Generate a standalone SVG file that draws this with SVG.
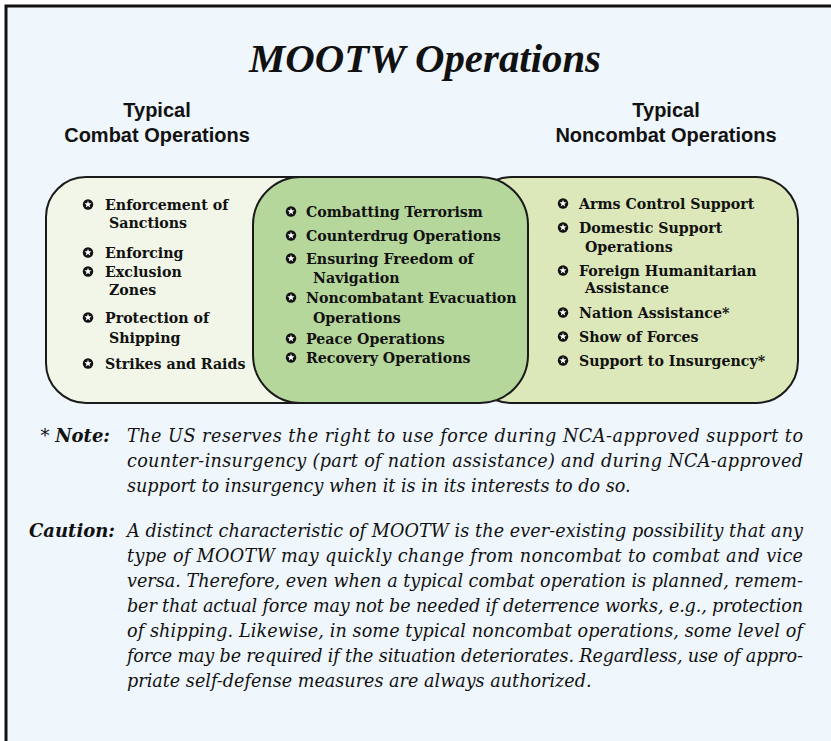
<svg xmlns="http://www.w3.org/2000/svg" xmlns:xlink="http://www.w3.org/1999/xlink" width="831" height="741" viewBox="0 0 831 741">
<style>
.box{stroke:#1a1a1a;stroke-width:2}
.item{font-family:"DejaVu Serif",serif;font-weight:bold;font-size:14.2px;fill:#111}
.hdr{font-family:"Liberation Sans",Arial,sans-serif;font-weight:bold;font-size:20px;fill:#111;text-anchor:middle}
.body{font-family:"DejaVu Serif",serif;font-style:italic;font-size:17.6px;fill:#111}
.lbl{font-family:"DejaVu Serif",serif;font-style:italic;font-weight:bold;font-size:18px;fill:#111;text-anchor:end}
</style>
<defs>
<g id="bul"><circle r="5.2" fill="#111"/><polygon fill="#fff" points="0,-3.8 0.94,-1.29 3.61,-1.17 1.52,0.49 2.23,3.07 0,1.6 -2.23,3.07 -1.52,0.49 -3.61,-1.17 -0.94,-1.29"/></g>
</defs>
<rect width="831" height="741" fill="#fff"/>
<g id="frame"><rect x="6" y="6" width="900" height="800" fill="#eff6fc" stroke="#111" stroke-width="3"/></g>
<g id="title"><text x="425" y="72" text-anchor="middle" font-family="'Liberation Serif',serif" font-weight="bold" font-style="italic" font-size="40" fill="#111" textLength="352" lengthAdjust="spacingAndGlyphs">MOOTW Operations</text></g>
<g id="hdr-combat"><text class="hdr" x="157" y="117">Typical</text><text class="hdr" x="157" y="142">Combat Operations</text></g>
<g id="hdr-noncombat"><text class="hdr" x="666" y="117">Typical</text><text class="hdr" x="666" y="142">Noncombat Operations</text></g>
<g id="combat">
<rect class="box" x="46" y="177" width="300" height="226" rx="40" fill="#f1f6e8"/>
<use xlink:href="#bul" x="88" y="204.5"/><text class="item" x="105" y="210">Enforcement of</text>
<text class="item" x="109" y="228">Sanctions</text>
<use xlink:href="#bul" x="88" y="252.5"/><text class="item" x="105" y="258">Enforcing</text>
<use xlink:href="#bul" x="88" y="271.5"/><text class="item" x="105" y="277">Exclusion</text>
<text class="item" x="109" y="295">Zones</text>
<use xlink:href="#bul" x="88" y="317.5"/><text class="item" x="105" y="323">Protection of</text>
<text class="item" x="109" y="343">Shipping</text>
<use xlink:href="#bul" x="88" y="363.5"/><text class="item" x="105" y="369">Strikes and Raids</text>
</g>
<g id="noncombat">
<rect class="box" x="470" y="177" width="328" height="226" rx="42" fill="#dce8ba"/>
<use xlink:href="#bul" x="563" y="203.5"/><text class="item" x="579" y="209">Arms Control Support</text>
<use xlink:href="#bul" x="563" y="227.5"/><text class="item" x="579" y="233">Domestic Support</text>
<text class="item" x="585" y="252">Operations</text>
<use xlink:href="#bul" x="563" y="270.5"/><text class="item" x="579" y="276">Foreign Humanitarian</text>
<text class="item" x="585" y="293">Assistance</text>
<use xlink:href="#bul" x="563" y="312.5"/><text class="item" x="579" y="318">Nation Assistance*</text>
<use xlink:href="#bul" x="563" y="336.5"/><text class="item" x="579" y="342">Show of Forces</text>
<use xlink:href="#bul" x="563" y="360.5"/><text class="item" x="579" y="366">Support to Insurgency*</text>
</g>
<g id="overlap">
<rect class="box" x="253" y="177" width="275" height="226" rx="48" fill="#b6d79c"/>
<use xlink:href="#bul" x="291" y="211.5"/><text class="item" x="306" y="217">Combatting Terrorism</text>
<use xlink:href="#bul" x="291" y="235.5"/><text class="item" x="306" y="241">Counterdrug Operations</text>
<use xlink:href="#bul" x="291" y="258.5"/><text class="item" x="306" y="264">Ensuring Freedom of</text>
<text class="item" x="313" y="283">Navigation</text>
<use xlink:href="#bul" x="291" y="297.5"/><text class="item" x="306" y="303">Noncombatant Evacuation</text>
<text class="item" x="313" y="323">Operations</text>
<use xlink:href="#bul" x="291" y="338.5"/><text class="item" x="306" y="344">Peace Operations</text>
<use xlink:href="#bul" x="291" y="357.5"/><text class="item" x="306" y="363">Recovery Operations</text>
</g>
<g id="note">
<text class="lbl" x="110" y="442"><tspan font-weight="normal" font-style="normal">* </tspan>Note:</text>
<text class="body" x="127" y="442" textLength="676" lengthAdjust="spacing">The US reserves the right to use force during NCA-approved support to</text>
<text class="body" x="127" y="467" textLength="676" lengthAdjust="spacing">counter-insurgency (part of nation assistance) and during NCA-approved</text>
<text class="body" x="127" y="492">support to insurgency when it is in its interests to do so.</text>
</g>
<g id="caution">
<text class="lbl" x="115" y="537">Caution:</text>
<text class="body" x="127" y="537" textLength="676" lengthAdjust="spacing">A distinct characteristic of MOOTW is the ever-existing possibility that any</text>
<text class="body" x="127" y="562" textLength="676" lengthAdjust="spacing">type of MOOTW may quickly change from noncombat to combat and vice</text>
<text class="body" x="127" y="587" textLength="676" lengthAdjust="spacing">versa. Therefore, even when a typical combat operation is planned, remem-</text>
<text class="body" x="127" y="612" textLength="676" lengthAdjust="spacing">ber that actual force may not be needed if deterrence works, e.g., protection</text>
<text class="body" x="127" y="637" textLength="676" lengthAdjust="spacing">of shipping. Likewise, in some typical noncombat operations, some level of</text>
<text class="body" x="127" y="662" textLength="676" lengthAdjust="spacing">force may be required if the situation deteriorates. Regardless, use of appro-</text>
<text class="body" x="127" y="687">priate self-defense measures are always authorized.</text>
</g>
</svg>
